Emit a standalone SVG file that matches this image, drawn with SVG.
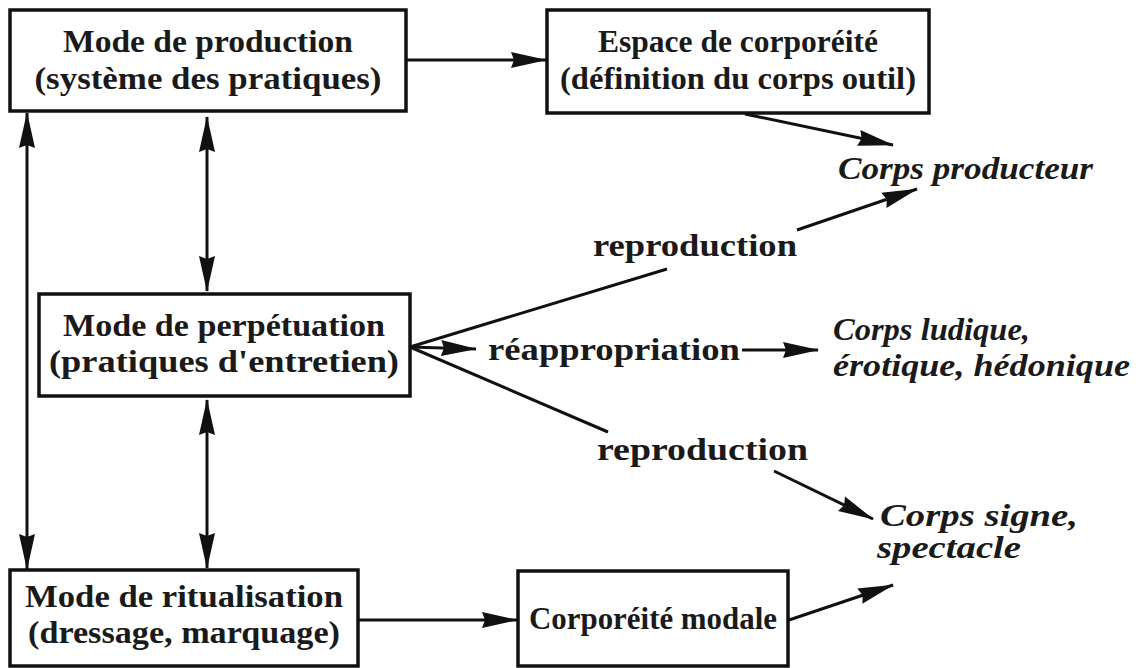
<svg xmlns="http://www.w3.org/2000/svg" width="1142" height="668" viewBox="0 0 1142 668">
<defs>
<marker id="ah" viewBox="0 0 36 18" refX="35" refY="9" markerWidth="36" markerHeight="18" markerUnits="userSpaceOnUse" orient="auto-start-reverse">
<path d="M0,1 L36,9 L0,17 L3,9 Z" fill="#111"/>
</marker>
<style>
.box{fill:#fff;stroke:#111;stroke-width:3.5}
.t{font-family:"Liberation Serif","Times New Roman",serif;font-weight:bold;font-size:31px;fill:#1a1a1a;text-anchor:middle}
.l{font-family:"Liberation Serif","Times New Roman",serif;font-weight:bold;font-size:31px;fill:#1a1a1a}
.i{font-family:"Liberation Serif","Times New Roman",serif;font-weight:bold;font-style:italic;font-size:31px;fill:#1a1a1a}
.c{stroke:#111;stroke-width:3;fill:none}
</style>
</defs>
<rect width="1142" height="668" fill="#fff"/>
<g id="connectors">
<line class="c" x1="406" y1="60" x2="546" y2="60" marker-end="url(#ah)"/>
<line class="c" x1="27" y1="113" x2="27" y2="569" marker-start="url(#ah)" marker-end="url(#ah)"/>
<line class="c" x1="207" y1="117" x2="207" y2="291" marker-start="url(#ah)" marker-end="url(#ah)"/>
<line class="c" x1="207" y1="400" x2="207" y2="568" marker-start="url(#ah)" marker-end="url(#ah)"/>
<line class="c" x1="358" y1="620" x2="517" y2="620" marker-end="url(#ah)"/>
<line class="c" x1="745" y1="114" x2="893" y2="145" marker-end="url(#ah)"/>
<line class="c" x1="410" y1="347" x2="667" y2="269"/>
<line class="c" x1="797" y1="230" x2="917" y2="189" marker-end="url(#ah)"/>
<line class="c" x1="410" y1="347" x2="476" y2="349" marker-end="url(#ah)"/>
<line class="c" x1="742" y1="350" x2="818" y2="350" marker-end="url(#ah)"/>
<line class="c" x1="410" y1="347" x2="608" y2="432"/>
<line class="c" x1="774" y1="471" x2="873" y2="519" marker-end="url(#ah)"/>
<line class="c" x1="789" y1="620" x2="893" y2="585" marker-end="url(#ah)"/>
</g>
<g id="n-production">
<rect class="box" x="10" y="10" width="396" height="101"/>
<text class="t" x="208" y="52" textLength="290" lengthAdjust="spacingAndGlyphs">Mode de production</text>
<text class="t" x="208" y="89" textLength="347" lengthAdjust="spacingAndGlyphs">(système des pratiques)</text>
</g>
<g id="n-espace">
<rect class="box" x="547" y="10" width="382" height="103"/>
<text class="t" x="738" y="52" textLength="280" lengthAdjust="spacingAndGlyphs">Espace de corporéité</text>
<text class="t" x="738" y="89" textLength="356" lengthAdjust="spacingAndGlyphs">(définition du corps outil)</text>
</g>
<g id="n-perpetuation">
<rect class="box" x="39" y="294" width="371" height="102"/>
<text class="t" x="224" y="336" textLength="322" lengthAdjust="spacingAndGlyphs">Mode de perpétuation</text>
<text class="t" x="224" y="372" textLength="350" lengthAdjust="spacingAndGlyphs">(pratiques d'entretien)</text>
</g>
<g id="n-ritualisation">
<rect class="box" x="10" y="570" width="348" height="96"/>
<text class="t" x="184" y="607" textLength="318" lengthAdjust="spacingAndGlyphs">Mode de ritualisation</text>
<text class="t" x="184" y="643" textLength="312" lengthAdjust="spacingAndGlyphs">(dressage, marquage)</text>
</g>
<g id="n-modale">
<rect class="box" x="518" y="571" width="270" height="95"/>
<text class="t" x="653" y="629" textLength="248" lengthAdjust="spacingAndGlyphs">Corporéité modale</text>
</g>
<g id="n-producteur">
<text class="i" x="838" y="179" textLength="255" lengthAdjust="spacingAndGlyphs">Corps producteur</text>
</g>
<g id="n-ludique">
<text class="i" x="833" y="340" textLength="197" lengthAdjust="spacingAndGlyphs">Corps ludique,</text>
<text class="i" x="833" y="376" textLength="297" lengthAdjust="spacingAndGlyphs">érotique, hédonique</text>
</g>
<g id="n-signe">
<text class="i" x="880" y="526" textLength="198" lengthAdjust="spacingAndGlyphs">Corps signe,</text>
<text class="i" x="877" y="558" textLength="144" lengthAdjust="spacingAndGlyphs">spectacle</text>
</g>
<g id="labels">
<text class="l" x="593" y="256" textLength="204" lengthAdjust="spacingAndGlyphs">reproduction</text>
<text class="l" x="488" y="360" textLength="252" lengthAdjust="spacingAndGlyphs">réappropriation</text>
<text class="l" x="597" y="460" textLength="211" lengthAdjust="spacingAndGlyphs">reproduction</text>
</g>
</svg>
